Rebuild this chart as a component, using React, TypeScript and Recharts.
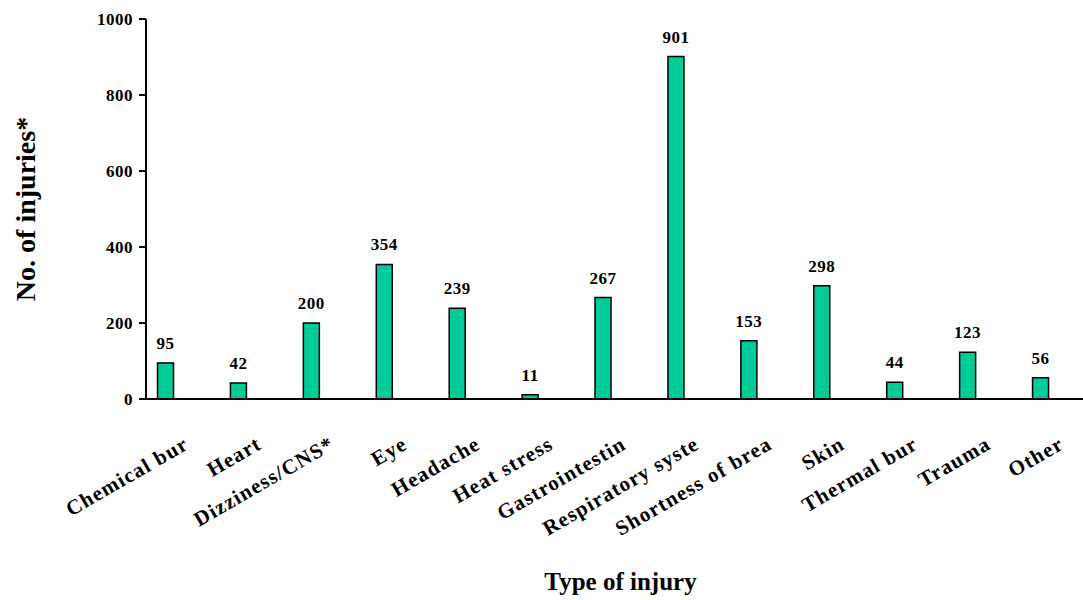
import { BarChart, Bar, XAxis, YAxis, LabelList, Label } from "recharts";

const CATEGORIES = [
  "Chemical bur",
  "Heart",
  "Dizziness/CNS*",
  "Eye",
  "Headache",
  "Heat stress",
  "Gastrointestin",
  "Respiratory syste",
  "Shortness of brea",
  "Skin",
  "Thermal bur",
  "Trauma",
  "Other",
];

const INJURY_COUNTS = [95, 42, 200, 354, 239, 11, 267, 901, 153, 298, 44, 123, 56];

const Y_TICKS = [0, 200, 400, 600, 800, 1000];
const X_TICKS = CATEGORIES.map((_, i) => i);

const data = CATEGORIES.map((name, i) => ({ idx: i, name, count: INJURY_COUNTS[i] }));

const FONT = '"Liberation Serif", "Times New Roman", serif';
const BAR_COLOR = "#00cc99";

const CategoryTick = ({ x, y, payload }: any) => {
  const name = CATEGORIES[payload.value] ?? "";
  return (
    <g transform={`translate(${x + 24},${y + 49})`}>
      <text
        textAnchor="end"
        transform="rotate(-30)"
        fontSize={21}
        fontWeight="bold"
        fontFamily={FONT}
        letterSpacing={1.2}
        fill="#000"
      >
        {name}
      </text>
    </g>
  );
};

const YTitle = ({ viewBox }: any) => {
  const cx = viewBox.x + 35;
  const cy = viewBox.y + viewBox.height / 2;
  return (
    <text
      x={cx}
      y={cy}
      transform={`rotate(-90, ${cx}, ${cy})`}
      textAnchor="middle"
      fontSize={28}
      fontWeight="bold"
      fontFamily={FONT}
      fill="#000"
    >
      No. of injuries*
    </text>
  );
};

const XTitle = ({ viewBox }: any) => (
  <text
    x={viewBox.x + viewBox.width / 2 + 6}
    y={viewBox.y + 191}
    textAnchor="middle"
    fontSize={25}
    fontWeight="bold"
    fontFamily={FONT}
    fill="#000"
  >
    Type of injury
  </text>
);

const App = () => {
  return (
    <div style={{ position: "absolute", left: 0, top: 0, width: 1083, height: 600, background: "#fff" }}>
      <BarChart width={1083} height={600} data={data} margin={{ top: 19, right: 0, bottom: 21, left: 0 }}>
        <XAxis
          dataKey="idx"
          type="number"
          domain={[-0.274, 12.576]}
          allowDataOverflow
          ticks={X_TICKS}
          interval={0}
          height={180}
          tickLine={false}
          tickSize={0}
          tickMargin={0}
          axisLine={{ stroke: "#000", strokeWidth: 2 }}
          tick={<CategoryTick />}
        >
          <Label content={<XTitle />} />
        </XAxis>
        <YAxis
          type="number"
          domain={[0, 1000]}
          ticks={Y_TICKS}
          width={146}
          tickSize={7}
          tickMargin={6}
          axisLine={{ stroke: "#000", strokeWidth: 2 }}
          tickLine={{ stroke: "#000", strokeWidth: 2 }}
          tick={{ fill: "#000", fontSize: 17, fontWeight: "bold", fontFamily: FONT, letterSpacing: 0.5 }}
        >
          <Label content={<YTitle />} />
        </YAxis>
        <Bar dataKey="count" fill={BAR_COLOR} stroke="#000" strokeWidth={1.5} barSize={16} isAnimationActive={false}>
          <LabelList
            dataKey="count"
            position="top"
            offset={14}
            fill="#000"
            fontSize={17}
            fontWeight="bold"
            fontFamily={FONT}
            letterSpacing={0.5}
          />
        </Bar>
      </BarChart>
    </div>
  );
};

export default App;
